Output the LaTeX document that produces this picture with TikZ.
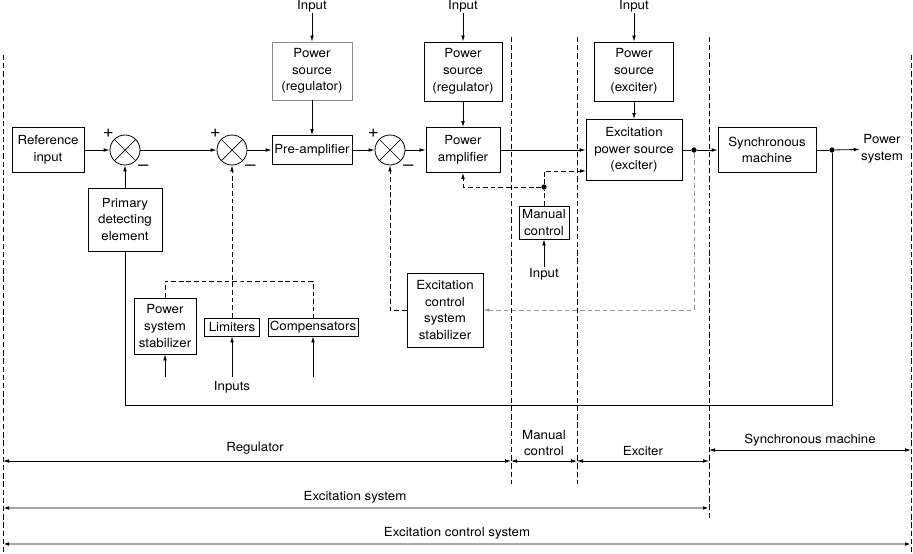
\documentclass[tikz,border=0pt]{standalone}
\usepackage{fontspec}
\setmainfont[FakeStretch=1.06]{TeX Gyre Heros}
\usetikzlibrary{arrows.meta,positioning}

\begin{document}
\begin{tikzpicture}[
  x=0.03cm, y=-0.03cm,
  font=\fontsize{10.7}{14.3}\selectfont,
  blk/.style 2 args={rectangle, draw, line width=0.7pt, align=center, inner sep=0pt,
              minimum width=#1*0.03cm, minimum height=#2*0.03cm},
  sum/.style={circle, draw, line width=0.7pt, minimum size=0.9cm, inner sep=0pt,
              path picture={\draw[line width=0.6pt]
                (path picture bounding box.north west) -- (path picture bounding box.south east)
                (path picture bounding box.north east) -- (path picture bounding box.south west);},
              label={[label distance=-0.5pt, inner sep=1pt, font=\fontsize{15}{15}\selectfont]132:+},
              label={[label distance=2.5pt, inner sep=1pt, font=\fontsize{15}{15}\selectfont]-50:\textendash}},
  dot/.style={circle, fill, inner sep=0pt, minimum size=4.5pt},
  txt/.style={align=center, inner sep=1pt},
  arrow/.style={-{Latex[length=1.8mm,width=1.1mm]}, line width=0.7pt},
  plain/.style={line width=0.7pt},
  dsh/.style={line width=0.7pt, dash pattern=on 4pt off 2.5pt},
  gdsh/.style={dsh, draw=black!40},
  sep/.style={line width=0.5pt, dash pattern=on 4.5pt off 2.5pt},
  dim/.style={{Latex[length=1.8mm,width=1.1mm]}-{Latex[length=1.8mm,width=1.1mm]}, line width=0.6pt},
  gdim/.style={{Latex[length=1.8mm,width=1.1mm,color=black]}-{Latex[length=1.8mm,width=1.1mm,color=black]},
               line width=1.3pt, draw=black!35}
]
\useasboundingbox (0,0) rectangle (913,553);

\node[blk={72}{45}] (refin) at (48,150) {Reference\\input};
\node[sum] (s1) at (125,150) {};
\node[sum] (s2) at (232,150) {};
\node[blk={80}{29}] (preamp) at (312,150) {Pre-amplifier};
\node[sum] (s3) at (390,150) {};
\node[blk={74}{45}] (pamp) at (463,150) {Power\\amplifier};
\node[blk={96}{61}] (excps) at (634,150) {Excitation\\power source\\(exciter)};
\node[dot] (dot1) at (694,150) {};
\node[blk={98}{45}] (sync) at (767,150) {Synchronous\\machine};
\node[dot] (dot2) at (832,150) {};
\node[txt] (pwrsys) at (882,149) {Power\\system};

\node[blk={80}{58}, draw=black!45] (psreg1) at (312,71) {Power\\source\\(regulator)};
\node[blk={78}{59}] (psreg2) at (463,71.5) {Power\\source\\(regulator)};
\node[blk={79}{59}] (psexc) at (634,71.5) {Power\\source\\(exciter)};
\node[txt] (in1) at (312,6) {Input};
\node[txt] (in2) at (463,6) {Input};
\node[txt] (in3) at (634,6) {Input};

\node[blk={74}{63}] (pde) at (125,219.5) {Primary\\detecting\\element};
\node[blk={50}{33}] (manual) at (544,222.5) {Manual\\control};
\node[dot] (dot3) at (544,187) {};
\node[txt] (minput) at (544,274) {Input};
\node[blk={76}{74}] (ecss) at (445,310) {Excitation\\control\\system\\stabilizer};

\node[blk={62}{56}] (pss) at (165,326) {Power\\system\\stabilizer};
\node[blk={55}{18}] (lim) at (232,327) {Limiters};
\node[blk={90}{18}] (comp) at (313,327) {Compensators};
\node[txt] (inputs) at (232,387) {Inputs};
\coordinate (pssin) at (165,377);
\coordinate (limin) at (232,377);
\coordinate (compin) at (313,377);
\coordinate (bus) at (240,281);
\coordinate (fb) at (832,405);
\coordinate (excin) at (586,171);

\draw[arrow] (refin) -- (s1);
\draw[arrow] (s1) -- (s2);
\draw[arrow] (s2) -- (preamp);
\draw[arrow] (preamp) -- (s3);
\draw[arrow] (s3) -- (pamp);
\draw[arrow] (pamp) -- (excps);
\draw[plain] (excps) -- (dot1);
\draw[arrow] (dot1) -- (sync);
\draw[plain] (sync) -- (dot2);
\draw[arrow] (dot2) -- (pwrsys);
\draw[arrow] (in1) -- (psreg1);
\draw[arrow] (in2) -- (psreg2);
\draw[arrow] (in3) -- (psexc);
\draw[arrow] (psreg1) -- (preamp);
\draw[arrow] (psreg2) -- (pamp);
\draw[arrow] (psexc) -- (excps);
\draw[arrow] (pde) -- (s1);
\draw[plain] (pde.south) |- (fb) -- (dot2);
\draw[arrow] (minput) -- (manual);
\draw[dsh] (manual) -- (dot3);
\draw[dsh, arrow] (dot3) -| (pamp.south);
\draw[dsh, arrow] (dot3) |- (excin);
\draw[gdsh, arrow] (dot1) |- (ecss.east);
\draw[dsh, arrow] (ecss.west) -| (s3.south);
\draw[dsh, arrow] (lim) -- (s2);
\draw[dsh] (pss.north) |- (bus) -| (comp.north);
\draw[arrow] (pssin) -- (pss);
\draw[arrow] (limin) -- (lim);
\draw[arrow] (compin) -- (comp);

\coordinate (v0t) at (3,55);   \coordinate (v0b) at (3,553);
\coordinate (v1t) at (511,37); \coordinate (v1b) at (511,484);
\coordinate (v2t) at (577,37); \coordinate (v2b) at (577,484);
\coordinate (v3t) at (709,37); \coordinate (v3b) at (709,518);
\coordinate (v4t) at (911,55); \coordinate (v4b) at (911,553);
\draw[sep] (v0t) -- (v0b);
\draw[sep] (v1t) -- (v1b);
\draw[sep] (v2t) -- (v2b);
\draw[sep] (v3t) -- (v3b);
\draw[sep] (v4t) -- (v4b);

\coordinate (r0) at (3,461); \coordinate (r1) at (511,461);
\coordinate (r2) at (577,461); \coordinate (r3) at (709,461);
\coordinate (q0) at (709,450); \coordinate (q1) at (911,450);
\coordinate (e0) at (3,508); \coordinate (e1) at (709,508);
\coordinate (c0) at (3,544); \coordinate (c1) at (911,544);
\draw[dim] (r0) -- (r1);
\draw[dim] (r1) -- (r2);
\draw[dim] (r2) -- (r3);
\draw[dim] (q0) -- (q1);
\draw[gdim] (e0) -- (e1);
\draw[gdim] (c0) -- (c1);
\node[txt] (lreg) at (255,448) {Regulator};
\node[txt] (lman) at (544,443) {Manual\\control};
\node[txt] (lexc) at (643,451) {Exciter};
\node[txt] (lsync) at (810,440) {Synchronous machine};
\node[txt] (lexs) at (355,497) {Excitation system};
\node[txt] (lecs) at (457,533) {Excitation control system};
\end{tikzpicture}
\end{document}
